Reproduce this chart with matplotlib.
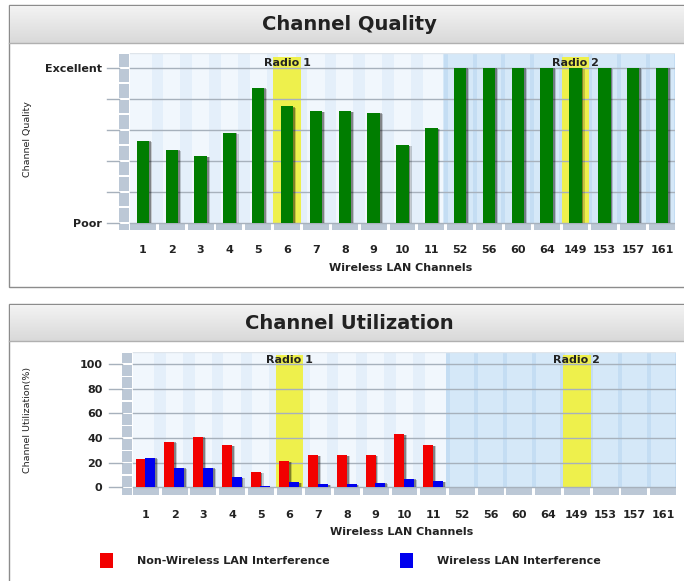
import numpy as np
import matplotlib
matplotlib.use('Agg')
import matplotlib.pyplot as plt
from matplotlib.patches import Rectangle
from matplotlib.colors import LinearSegmentedColormap

# Chart data
channels = ['1', '2', '3', '4', '5', '6', '7', '8', '9', '10', '11',
            '52', '56', '60', '64', '149', '153', '157', '161']
quality = [53, 47, 43, 58, 87, 75, 72, 72, 71, 50, 61,
           100, 100, 100, 100, 100, 100, 100, 100]
non_wlan = [23, 37, 41, 34, 12, 21, 26, 26, 26, 43, 34,
            0, 0, 0, 0, 0, 0, 0, 0]
wlan = [24, 16, 16, 8, 1, 4, 2.5, 2.5, 3.5, 7, 5,
        0, 0, 0, 0, 0, 0, 0, 0]
radio_channels = ['6', '149']
radio_labels = ['Radio 1', 'Radio 2']
legend_labels = ['Non-Wireless LAN Interference', 'Wireless LAN Interference']

plt.rcParams['font.family'] = ['DejaVu Sans']
TXT = '#222222'

W, H = 684, 581
fig = plt.figure(figsize=(W / 100, H / 100), dpi=100)


def px_box(x0, y0, x1, y1):
    # pixel box (top-left origin) -> figure fraction [l, b, w, h]
    return [x0 / W, 1 - y1 / H, (x1 - x0) / W, (y1 - y0) / H]


def draw_panel(y_top, y_band, y_bottom, title):
    l, b, w, h = px_box(9, y_top, 720, y_bottom)
    fig.add_artist(Rectangle((l, b), w, h, transform=fig.transFigure,
                             facecolor='white', edgecolor='#8c8c8c', lw=1, zorder=0))
    band = fig.add_axes(px_box(10, y_top + 1, 720, y_band))
    grad = np.linspace(0, 1, 50).reshape(-1, 1)
    band.imshow(grad, aspect='auto', extent=[0, 1, 0, 1],
                cmap=LinearSegmentedColormap.from_list('band', ['#f3f3f3', '#d9d9d9']))
    band.axis('off')
    l2, b2, w2, _ = px_box(9, y_band, 720, y_band)
    fig.add_artist(plt.Line2D([l2, l2 + w2], [b2, b2], transform=fig.transFigure,
                              color='#b0b0b0', lw=1))
    fig.text(349 / W, 1 - ((y_top + y_band) / 2 + 1) / H, title, ha='center', va='center',
             fontsize=14, fontweight='bold', color=TXT)


def draw_chart(ax, ylo, yhi, split, major, minor, tick_x0):
    n = len(channels)
    # cell backgrounds
    ax.add_patch(Rectangle((-0.45, 0), split + 0.45, yhi, facecolor='#f1f7fd', lw=0, zorder=0.5))
    ax.add_patch(Rectangle((split, 0), n - split, yhi, facecolor='#d5e8f8', lw=0, zorder=0.5))
    for i in range(n):
        b = i + 0.5
        if b < split:
            ax.add_patch(Rectangle((b - 0.2, 0), 0.4, yhi, facecolor='#e4effa', lw=0, zorder=0.6))
        else:
            ax.add_patch(Rectangle((b - 0.07, 0), 0.14, yhi, facecolor='#c4ddf3', lw=0, zorder=0.6))
    # highlighted radio channels
    for ch, lab in zip(radio_channels, radio_labels):
        idx = channels.index(ch)
        ax.add_patch(Rectangle((idx - 0.48, 0), 0.96, yhi - 2.5, facecolor='#eef04c', lw=0, zorder=0.8))
        ax.text(idx, yhi - 6.5, lab, ha='center', va='center', fontsize=8,
                fontweight='bold', color=TXT, zorder=5)
    # grid lines and outer tick marks
    for y in major:
        ax.plot([-0.45, n], [y, y], color='#a7b1bc', lw=1, zorder=2)
        ax.plot([tick_x0, -0.83], [y, y], color='#a7b1bc', lw=1, zorder=2, clip_on=False)
    ax.plot([-0.45, n], [yhi, yhi], color='#dfe5eb', lw=1, zorder=2)
    # left strip with small gaps
    for k in range(len(minor)):
        y0 = minor[k]
        y1 = minor[k + 1] if k + 1 < len(minor) else yhi
        ax.add_patch(Rectangle((-0.83, y0 + 0.6), 0.36, y1 - y0 - 1.2,
                               facecolor='#bcc8d6', lw=0, zorder=1))
    ax.add_patch(Rectangle((-0.83, ylo), 0.36, -ylo - 0.8, facecolor='#bcc8d6', lw=0, zorder=1))
    # bottom strip segments
    for i in range(n):
        x0 = -0.45 if i == 0 else i - 0.45
        ax.add_patch(Rectangle((x0, ylo), i + 0.45 - x0, -ylo - 0.8,
                               facecolor='#bcc8d6', lw=0, zorder=1))
    ax.set_xlim(-0.83, n - 0.55)
    ax.set_ylim(ylo, yhi)
    for s in ax.spines.values():
        s.set_visible(False)
    ax.set_xticks(range(n), channels)
    ax.tick_params(axis='both', length=0, labelsize=8, labelcolor=TXT)
    ax.tick_params(axis='x', pad=11)
    for t in ax.get_xticklabels():
        t.set_fontweight('bold')


def shadow_bars(ax, x, vals, width, color):
    vals = np.asarray(vals, dtype=float)
    ax.bar(x + 0.10, np.clip(vals - 0.8, 0, None), width=width, color='#000000',
           alpha=0.18, zorder=3)
    ax.bar(x + 0.06, np.clip(vals - 0.4, 0, None), width=width, color='#000000',
           alpha=0.35, zorder=3)
    ax.bar(x, vals, width=width, color=color, zorder=4)


x = np.arange(len(channels))

# ---- Channel Quality ----
draw_panel(5, 43, 287, 'Channel Quality')
ax1 = fig.add_axes(px_box(119, 53, 675, 230))
draw_chart(ax1, -4.7, 109.5, 10.42, [0, 20, 40, 60, 80, 100],
           list(range(0, 110, 10)), -1.25)
shadow_bars(ax1, x, quality, 0.43, '#007d00')
ax1.set_yticks([0, 100], ['Poor', 'Excellent'])
for t in ax1.get_yticklabels():
    t.set_fontweight('bold')
ax1.tick_params(axis='y', pad=12)
fig.text(28 / W, 1 - 139 / H, 'Channel Quality', rotation=90, ha='center', va='center',
         fontsize=6.8, color=TXT)
fig.text(401 / W, 1 - 268 / H, 'Wireless LAN Channels', ha='center', va='center',
         fontsize=8, fontweight='bold', color=TXT)

# ---- Channel Utilization ----
draw_panel(304, 341, 620, 'Channel Utilization')
ax2 = fig.add_axes(px_box(122, 352, 676, 495))
draw_chart(ax2, -6.3, 109.8, 10.45, [0, 20, 40, 60, 80, 100],
           list(range(0, 110, 10)), -1.28)
shadow_bars(ax2, x - 0.18, non_wlan, 0.35, '#f20000')
shadow_bars(ax2, x + 0.16, wlan, 0.35, '#0000ee')
ax2.set_yticks([0, 20, 40, 60, 80, 100])
for t in ax2.get_yticklabels():
    t.set_fontweight('bold')
ax2.tick_params(axis='y', pad=14)
fig.text(28 / W, 1 - 420 / H, 'Channel Utilization(%)', rotation=90, ha='center', va='center',
         fontsize=6.8, color=TXT)
fig.text(402 / W, 1 - 532 / H, 'Wireless LAN Channels', ha='center', va='center',
         fontsize=8, fontweight='bold', color=TXT)

# legend
for (lx, tx), lab, col in zip([(100, 137), (400, 437)], legend_labels, ['#f20000', '#0000ee']):
    l, b, w, h = px_box(lx, 553, lx + 13, 568)
    fig.add_artist(Rectangle((l, b), w, h, transform=fig.transFigure, facecolor=col, lw=0))
    fig.text(tx / W, 1 - 561 / H, lab, ha='left', va='center', fontsize=8,
             fontweight='bold', color=TXT)

fig.savefig('out.png', dpi=100)
